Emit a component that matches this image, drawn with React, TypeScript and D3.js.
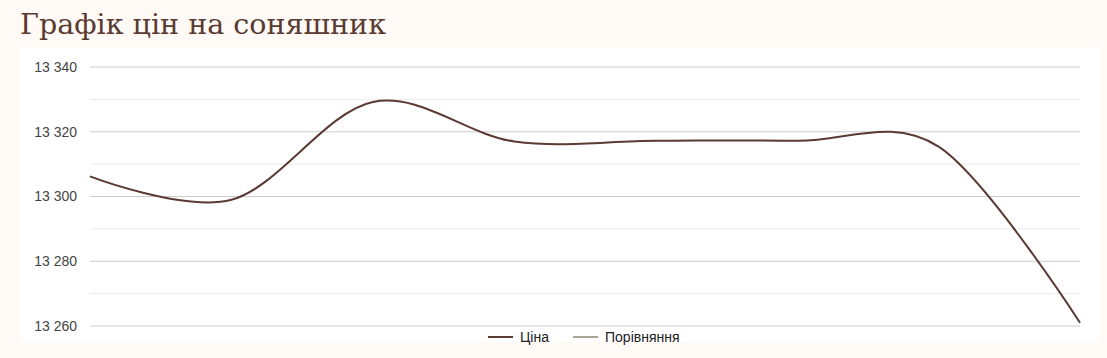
import React from "react";
import * as d3 from "d3";

const title = "Графік цін на соняшник";
const seriesNames = ["Ціна", "Порівняння"];
const pointIndex = [0, 1, 2, 3, 4, 5, 6, 7];
const priceValues = [13306.2, 13299.0, 13329.2, 13317.0, 13317.2, 13317.2, 13315.4, 13261.0];
const majorTicks = [13260, 13280, 13300, 13320, 13340];
const minorTicks = [13270, 13290, 13310, 13330];

const W = 1107;
const H = 358;
const plot = { left: 90, right: 1080, top: 67, bottom: 326 };

export default function App() {
  const x = d3.scaleLinear().domain([0, pointIndex.length - 1]).range([plot.left, plot.right]);
  const y = d3.scaleLinear().domain([13260, 13340]).range([plot.bottom, plot.top]);
  const line = d3
    .line<number>()
    .x((_, i) => x(pointIndex[i]))
    .y((d) => y(d))
    .curve(d3.curveCardinal.tension(0));
  const fmt = (v: number) => d3.format(",")(v).replace(/,/g, " ");
  const brown = "#5b3a33";
  return (
    <svg
      width={W}
      height={H}
      style={{ position: "absolute", left: 0, top: 0, display: "block" }}
    >
      <rect x={0} y={0} width={W} height={H} fill="#fffaf6" />
      <text
        x={20}
        y={34}
        fontFamily="'DejaVu Serif', serif"
        fontSize={28}
        fill="#5a3b32"
        textLength={366}
        lengthAdjust="spacingAndGlyphs"
      >
        {title}
      </text>
      <rect x={20} y={47} width={1080} height={295} fill="#ffffff" />
      {minorTicks.map((t) => (
        <line key={"m" + t} x1={plot.left} x2={plot.right} y1={y(t)} y2={y(t)} stroke="#ebebeb" strokeWidth={1} />
      ))}
      {majorTicks.map((t) => (
        <g key={t}>
          <line x1={plot.left} x2={plot.right} y1={y(t)} y2={y(t)} stroke="#cccccc" strokeWidth={1} />
          <text
            x={77}
            y={y(t)}
            dy="0.35em"
            textAnchor="end"
            fontFamily="Arial, 'Liberation Sans', sans-serif"
            fontSize={14}
            fill="#444444"
          >
            {fmt(t)}
          </text>
        </g>
      ))}
      <path d={line(priceValues) || ""} fill="none" stroke={brown} strokeWidth={2} />
      <g fontFamily="Arial, 'Liberation Sans', sans-serif" fontSize={14} fill="#222222">
        <line x1={488} x2={513} y1={337} y2={337} stroke={brown} strokeWidth={2} />
        <text x={520} y={337} dy="0.35em">{seriesNames[0]}</text>
        <line x1={573} x2={598} y1={337} y2={337} stroke="#aaa597" strokeWidth={2} />
        <text x={605} y={337} dy="0.35em">{seriesNames[1]}</text>
      </g>
    </svg>
  );
}
